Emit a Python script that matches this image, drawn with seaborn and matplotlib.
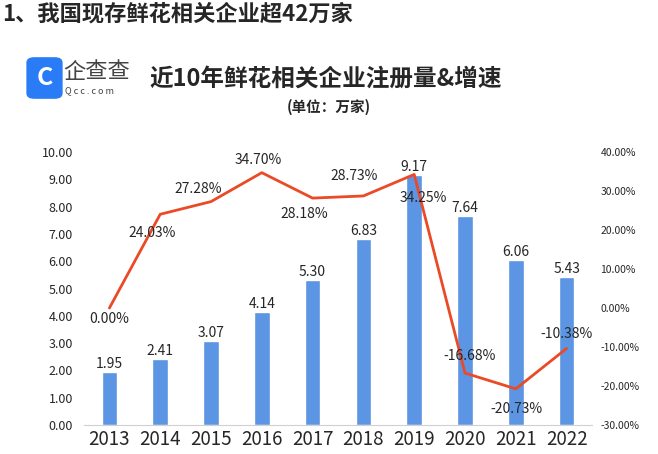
import numpy as np
import pandas as pd
import matplotlib
matplotlib.use("Agg")
import matplotlib.pyplot as plt
import seaborn as sns
from matplotlib.patches import FancyBboxPatch

# data
years = ['2013', '2014', '2015', '2016', '2017', '2018', '2019', '2020', '2021', '2022']
registrations = [1.95, 2.41, 3.07, 4.14, 5.30, 6.83, 9.17, 7.64, 6.06, 5.43]
growth = [0.00, 24.03, 27.28, 34.70, 28.18, 28.73, 34.25, -16.68, -20.73, -10.38]

# label offsets (pixels) for the growth labels
growth_offsets = [(0, -4), (-8, -12), (-13, 6), (-4, 6), (-8, -9),
                  (-9, 13), (9, -17), (5, 10), (1, -13), (0, 7)]

sns.set_style("white")
plt.rcParams['font.family'] = ['Noto Sans CJK SC', 'DejaVu Sans']

bar_color = '#5B95E3'
line_color = '#EA4A26'

fig = plt.figure(figsize=(6.58, 4.54), dpi=100)
ax = fig.add_axes([84 / 658, 1 - 425 / 454, 508 / 658, 273 / 454])

df = pd.DataFrame({'year': years, 'count': registrations, 'growth': growth})
sns.barplot(data=df, x='year', y='count', color=bar_color, width=0.31,
            saturation=1, ax=ax)
ax.set_xlim(-0.5, 9.5)
ax.set_ylim(0, 10)
ax.set_yticks(np.arange(0, 10.01, 1))
ax.set_yticklabels([f'{v:.2f}' for v in np.arange(0, 10.01, 1)], fontsize=9)
ax.set_xlabel('')
ax.set_ylabel('')
ax.tick_params(axis='x', labelsize=13.5, length=0, pad=3)
ax.tick_params(axis='y', length=0, pad=8)
for s in ['top', 'right', 'left']:
    ax.spines[s].set_visible(False)
ax.spines['bottom'].set_color('#D0D0D0')

for i, v in enumerate(registrations):
    ax.annotate(f'{v:.2f}', (i, v), xytext=(0, 1), textcoords='offset pixels',
                ha='center', va='bottom', fontsize=10)

ax2 = ax.twinx()
sns.lineplot(x=np.arange(len(years)), y=growth, color=line_color, linewidth=2,
             ax=ax2)
ax2.set_ylim(-30, 40)
ax2.set_yticks(np.arange(-30, 40.01, 10))
ax2.set_yticklabels([f'{v:.2f}%' for v in np.arange(-30, 40.01, 10)], fontsize=7.5)
ax2.tick_params(axis='y', length=0, pad=6)
for s in ['top', 'right', 'left', 'bottom']:
    ax2.spines[s].set_visible(False)

for i, (v, off) in enumerate(zip(growth, growth_offsets)):
    va = 'bottom' if off[1] > 0 else 'top'
    ax2.annotate(f'{v:.2f}%', (i, v), xytext=off, textcoords='offset pixels',
                 ha='center', va=va, fontsize=10)

# titles
fig.text(2 / 658, 1 - 14 / 454, '1、我国现存鲜花相关企业超42万家', fontsize=16,
         fontweight='heavy', ha='left', va='center')
fig.text(326 / 658, 1 - 79 / 454, '近10年鲜花相关企业注册量&增速', fontsize=17,
         fontweight='heavy', ha='center', va='center')
fig.text(329 / 658, 1 - 107 / 454, '(单位：万家)', fontsize=10.5,
         fontweight='bold', ha='center', va='center')

# logo
logo = FancyBboxPatch((29 / 658, 1 - 97 / 454), 31 / 658, 38 / 454,
                      boxstyle='round,pad=0.004,rounding_size=0.012',
                      transform=fig.transFigure, facecolor='#2A7CF6',
                      edgecolor='none')
fig.patches.append(logo)
fig.text(44.5 / 658, 1 - 78 / 454, 'C', fontsize=18, color='white',
         fontweight='bold', ha='center', va='center')
fig.text(63 / 658, 1 - 71 / 454, '企查查', fontsize=16, color='#444444',
         ha='left', va='center')
fig.text(65 / 658, 1 - 91 / 454, 'Q c c . c o m', fontsize=6.5, color='#444444',
         ha='left', va='center')

fig.savefig('out.png', dpi=100)
